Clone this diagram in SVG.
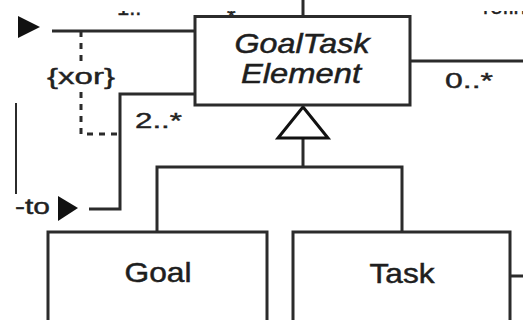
<svg xmlns="http://www.w3.org/2000/svg" width="523" height="320" viewBox="0 0 523 320">
  <style>
    .box { fill: #fff; stroke: #2b2b2b; stroke-width: 3; }
    .ln { fill: none; stroke: #2b2b2b; stroke-width: 3; }
    .thin { fill: none; stroke: #2b2b2b; stroke-width: 2; }
    .dash { fill: none; stroke: #2b2b2b; stroke-width: 3; stroke-dasharray: 6 6; }
    .head { fill: #111; stroke: none; }
    .gen { fill: #fff; stroke: #111; stroke-width: 3; stroke-linejoin: miter; }
    .name { font-family: "Liberation Sans", Arial, sans-serif; font-size: 28px; fill: #1e1e1e; stroke: #1e1e1e; stroke-width: 0.5; text-anchor: middle; }
    .abs { font-style: italic; }
    .lbl { font-family: "Liberation Sans", Arial, sans-serif; font-size: 22px; fill: #222; stroke: #222; stroke-width: 0.4; }
  </style>
  <defs>
    <clipPath id="topEdge">
      <rect x="0" y="11" width="523" height="10"/>
    </clipPath>
  </defs>

  <!-- connectors -->
  <g id="connectors">
    <!-- upper association into GoalTask Element -->
    <line class="ln" x1="52" y1="31" x2="195" y2="31"/>
    <polygon class="head" points="18,16 40,27 18,38"/>
    <!-- lower association -->
    <polyline class="ln" points="195,94 120,94 120,209 89,209"/>
    <polygon class="head" points="58,196 78,208 58,221"/>
    <!-- xor constraint -->
    <line class="dash" x1="81" y1="31" x2="81" y2="62"/>
    <polyline class="dash" points="81,92 81,134 118,134"/>
    <!-- left edge line -->
    <line class="thin" x1="16" y1="103" x2="16" y2="194"/>
    <!-- stub above the abstract class -->
    <line class="ln" x1="303" y1="0" x2="303" y2="16"/>
    <!-- right association -->
    <line class="ln" x1="410" y1="61" x2="523" y2="61"/>
    <line class="ln" x1="510" y1="276" x2="523" y2="276"/>
    <!-- generalization -->
    <polyline class="ln" points="157,232 157,167 402,167 402,232"/>
    <line class="ln" x1="303" y1="138" x2="303" y2="167"/>
    <polygon class="gen" points="303,107 278,138 328,138"/>

    <!-- multiplicities and labels -->
    <text class="lbl" x="47" y="84" textLength="68" lengthAdjust="spacingAndGlyphs">{xor}</text>
    <text class="lbl" x="135" y="128" textLength="47" lengthAdjust="spacingAndGlyphs">2..*</text>
    <text class="lbl" x="445" y="88" textLength="48" lengthAdjust="spacingAndGlyphs">0..*</text>
    <text class="lbl" x="15" y="214" textLength="35" lengthAdjust="spacingAndGlyphs">-to</text>
    <g clip-path="url(#topEdge)">
      <text class="lbl" x="117" y="15">1..*</text>
      <text class="lbl" x="227" y="24">*</text>
      <text class="lbl" x="483" y="14">refines</text>
    </g>
  </g>

  <!-- nodes -->
  <g id="goaltask-element">
    <rect class="box" x="195" y="16.5" width="215" height="88.5"/>
    <text class="name abs" x="302" y="53" textLength="135" lengthAdjust="spacingAndGlyphs">GoalTask</text>
    <text class="name abs" x="301" y="83" textLength="120" lengthAdjust="spacingAndGlyphs">Element</text>
  </g>

  <g id="goal">
    <rect class="box" x="48" y="232" width="219" height="110"/>
    <text class="name" x="158" y="282" textLength="67" lengthAdjust="spacingAndGlyphs">Goal</text>
  </g>

  <g id="task">
    <rect class="box" x="293" y="232" width="217" height="110"/>
    <text class="name" x="402" y="283" textLength="65" lengthAdjust="spacingAndGlyphs">Task</text>
  </g>
</svg>
